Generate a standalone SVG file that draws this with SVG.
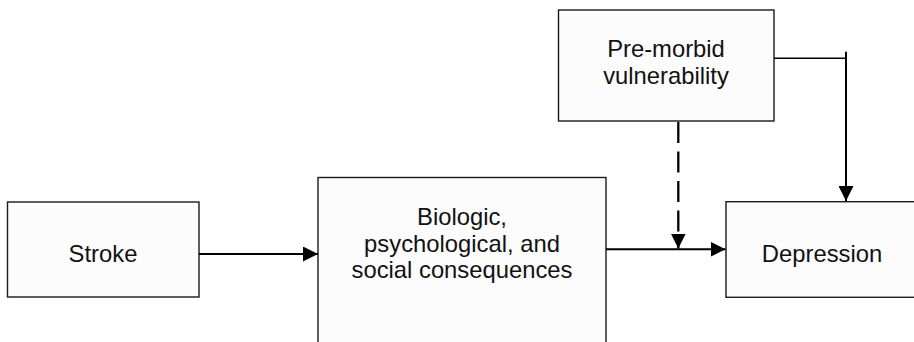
<svg xmlns="http://www.w3.org/2000/svg" width="914" height="342" viewBox="0 0 914 342">
  <defs>
    <marker id="arrow" markerUnits="userSpaceOnUse" markerWidth="15" markerHeight="15" refX="15" refY="7.5" orient="auto">
      <path d="M0,0 L15,7.5 L0,15 Z" fill="#000"/>
    </marker>
    <style>
      .box { fill: #fcfcfc; stroke: #1a1a1a; stroke-width: 1.4; }
      .label { font-family: "Liberation Sans", Arial, sans-serif; font-size: 23.8px; fill: #111; text-anchor: middle; }
      .conn { fill: none; stroke: #000; stroke-width: 2; }
      .thin { fill: none; stroke: #000; stroke-width: 1.4; }
      .dash { stroke-dasharray: 21 8.5; stroke-width: 2.3; }
    </style>
  </defs>
  <rect width="914" height="342" fill="#ffffff"/>

  <g id="node-stroke">
    <rect class="box" x="7.5" y="202" width="191.5" height="95"/>
    <text class="label" x="103" y="262.3">Stroke</text>
  </g>

  <g id="node-consequences">
    <rect class="box" x="318" y="177.5" width="288" height="200"/>
    <text class="label" x="462" y="225">Biologic,</text>
    <text class="label" x="462" y="251.5">psychological, and</text>
    <text class="label" x="462" y="278">social consequences</text>
  </g>

  <g id="node-premorbid">
    <rect class="box" x="558.5" y="10" width="215.5" height="111"/>
    <text class="label" x="666" y="56.7">Pre-morbid</text>
    <text class="label" x="666" y="83.5">vulnerability</text>
  </g>

  <g id="node-depression">
    <rect class="box" x="726" y="201.7" width="195" height="95.6"/>
    <text class="label" x="822" y="261.7">Depression</text>
  </g>

  <g id="connectors">
    <line class="conn" x1="199" y1="254" x2="318" y2="254" marker-end="url(#arrow)"/>
    <line class="conn" x1="606" y1="249.3" x2="725.5" y2="249.3" marker-end="url(#arrow)"/>
    <line class="conn dash" x1="678.3" y1="122" x2="678.3" y2="248.5" marker-end="url(#arrow)"/>
    <line class="thin" x1="774" y1="58.3" x2="846" y2="58.3"/>
    <line class="conn" x1="846" y1="51.7" x2="846" y2="201" marker-end="url(#arrow)"/>
  </g>
</svg>
